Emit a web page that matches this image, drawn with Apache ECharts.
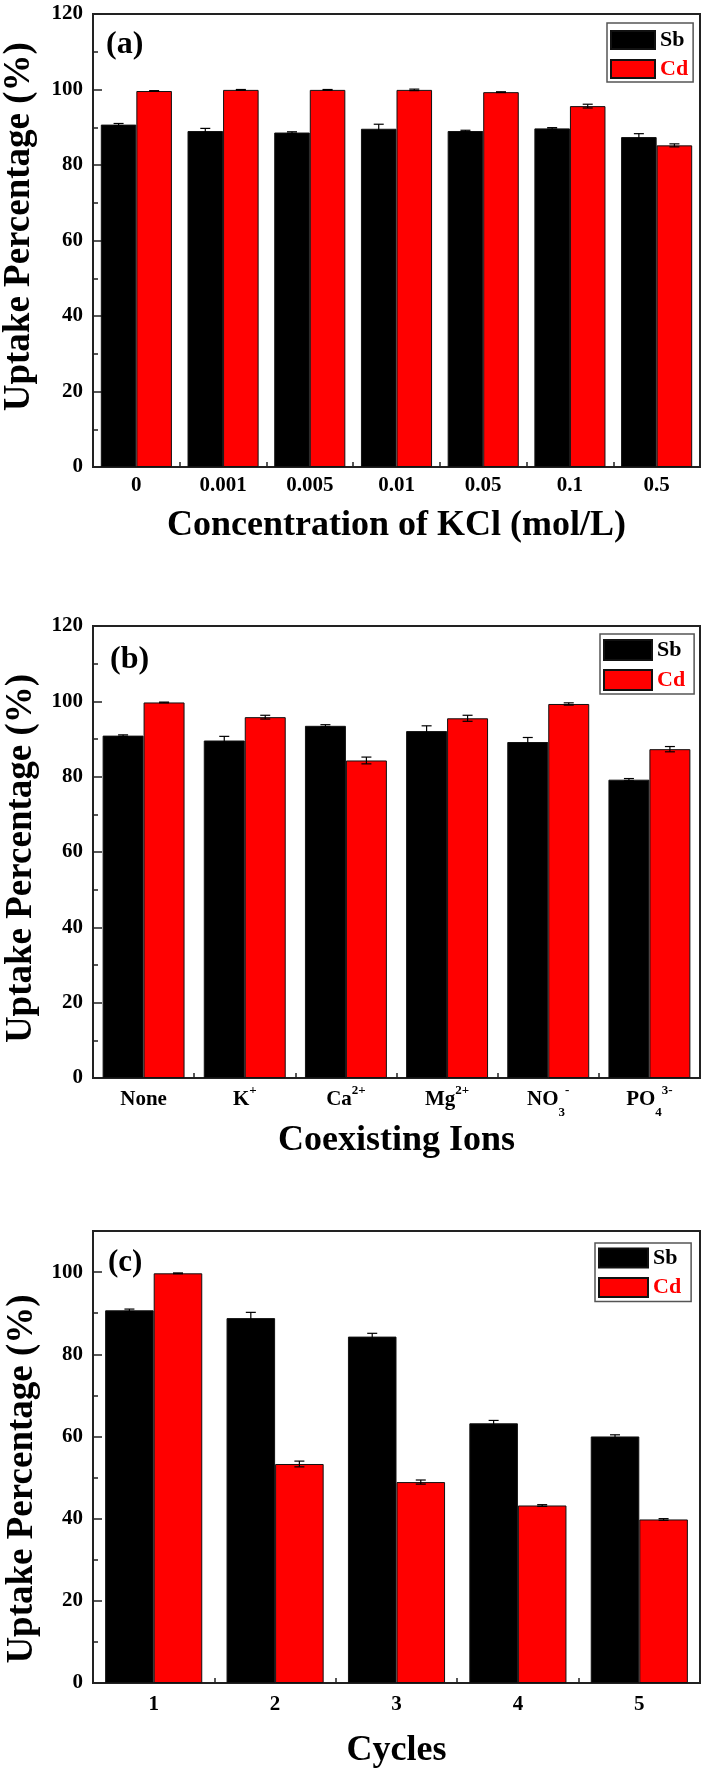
<!DOCTYPE html>
<html><head><meta charset="utf-8">
<script src="https://cdn.jsdelivr.net/npm/echarts@6/dist/echarts.min.js"></script>
<style>html,body{margin:0;padding:0;background:#fff}#c{width:708px;height:1774px}</style>
</head><body><div id="c"></div>
<script>
// ---- Panel (a): KCl concentration ----
const kclCategories = ['0', '0.001', '0.005', '0.01', '0.05', '0.1', '0.5'];
const kclSb = [90.7, 89.0, 88.6, 89.6, 89.0, 89.7, 87.4];
const kclSbErr = [0.3, 0.7, 0.2, 1.2, 0.2, 0.2, 0.9];
const kclCd = [99.6, 99.9, 99.9, 99.9, 99.3, 95.6, 85.2];
const kclCdErr = [0.1, 0.1, 0.1, 0.2, 0.1, 0.5, 0.4];

// ---- Panel (b): coexisting ions ----
const ionCategories = ['None', 'K+', 'Ca2+', 'Mg2+', 'NO3-', 'PO43-'];
const ionLabels = ['None', 'K{sup|+}', 'Ca{sup|2+}', 'Mg{sup|2+}', 'NO{sub|3}{sup|-}', 'PO{sub|4}{sup|3-}'];
const ionSb = [90.9, 89.6, 93.5, 92.1, 89.2, 79.2];
const ionSbErr = [0.2, 1.1, 0.3, 1.4, 1.2, 0.3];
const ionCd = [99.7, 95.8, 84.3, 95.5, 99.3, 87.3];
const ionCdErr = [0.1, 0.5, 0.9, 0.8, 0.3, 0.7];

// ---- Panel (c): cycles ----
const cycleCategories = ['1', '2', '3', '4', '5'];
const cycleSb = [90.7, 88.8, 84.3, 63.2, 60.0];
const cycleSbErr = [0.3, 1.4, 0.8, 0.7, 0.4];
const cycleCd = [99.7, 53.3, 48.9, 43.2, 39.8];
const cycleCdErr = [0.1, 0.7, 0.5, 0.2, 0.2];

const yTickLabels = [0, 20, 40, 60, 80, 100, 120];

const FF = '"Liberation Serif", "Times New Roman", serif';
const LINE = '#222';

const chart = echarts.init(document.getElementById('c'), null, {renderer: 'canvas'});

function gridDef(top, height) {
  return {left: 93, right: 8, top: top, height: height, show: true,
          borderColor: LINE, borderWidth: 2, containLabel: false};
}

function xAxisDef(gi, cats, name, nameGap, labelOpts) {
  return Object.assign({
    type: 'category', gridIndex: gi, data: cats,
    boundaryGap: true,
    axisLine: {show: true, lineStyle: {color: LINE, width: 2}},
    axisTick: {show: true, inside: true, length: 5, lineStyle: {color: LINE, width: 1.5}},
    axisLabel: {fontFamily: FF, fontWeight: 'bold', fontSize: 21, color: '#000', margin: 8, interval: 0, hideOverlap: false},
    name: name, nameLocation: 'middle', nameGap: nameGap,
    nameTextStyle: {fontFamily: FF, fontWeight: 'bold', fontSize: 36, color: '#000'},
    splitLine: {show: false}
  }, labelOpts || {});
}

function yAxisDef(gi, max, extra) {
  return Object.assign({
    type: 'value', gridIndex: gi, min: 0, max: max, interval: 20,
    axisLine: {show: true, lineStyle: {color: LINE, width: 2}},
    axisTick: {show: true, inside: true, length: 9, lineStyle: {color: LINE, width: 1.5}},
    minorTick: {show: true, splitNumber: 2, length: 5, lineStyle: {color: LINE, width: 1.5}},
    axisLabel: {fontFamily: FF, fontWeight: 'bold', fontSize: 21, color: '#000', margin: 10,
                formatter: function (v) { return yTickLabels.indexOf(v) >= 0 ? String(v) : ''; }},
    splitLine: {show: false}
  }, extra || {});
}

function barSeries(name, gi, yi, data, color, gap) {
  return {
    name: name, type: 'bar', xAxisIndex: gi, yAxisIndex: yi, data: data,
    barGap: '0%', barCategoryGap: (gap * 100) + '%',
    itemStyle: {color: color, borderColor: '#111', borderWidth: 1},
    z: 2
  };
}

function errSeries(gi, yi, values, errs, side, gap) {
  return {
    type: 'custom', xAxisIndex: gi, yAxisIndex: yi, z: 10, silent: true,
    data: values.map(function (v, i) { return [i, v, errs[i]]; }),
    renderItem: function (params, api) {
      const i = api.value(0), v = api.value(1), e = api.value(2);
      const band = api.size([1, 0])[0];
      const bw = band * (1 - gap) / 2;
      const c = api.coord([i, v]);
      const x = c[0] + side * bw / 2;
      const yt = api.coord([i, v + e])[1];
      const yb = api.coord([i, v - e])[1];
      const cap = 5;
      const st = {stroke: '#000', lineWidth: 1.2};
      return {type: 'group', children: [
        {type: 'line', shape: {x1: x, y1: yt, x2: x, y2: yb}, style: st},
        {type: 'line', shape: {x1: x - cap, y1: yt, x2: x + cap, y2: yt}, style: st},
        {type: 'line', shape: {x1: x - cap, y1: yb, x2: x + cap, y2: yb}, style: st}
      ]};
    }
  };
}

function legendDef(left, top, padding, iw, ih, gap) {
  return {
    left: left, top: top, orient: 'vertical', padding: padding,
    itemWidth: iw, itemHeight: ih, itemGap: gap, itemTextGap: 6,
    borderColor: '#555', borderWidth: 1.5, backgroundColor: '#fff',
    selectedMode: false,
    textStyle: {fontFamily: FF, fontWeight: 'bold', fontSize: 22, lineHeight: 22},
    data: [
      {name: 'Sb', icon: 'rect', textStyle: {color: '#000'}},
      {name: 'Cd', icon: 'rect', textStyle: {color: '#ff0000'}}
    ]
  };
}

const gapA = 0.18, gapB = 0.19, gapC = 0.20;
const richSS = {
  sup: {fontFamily: FF, fontWeight: 'bold', fontSize: 13, lineHeight: 13, verticalAlign: 'top', padding: [3, 0, 0, 0], color: '#000'},
  sub: {fontFamily: FF, fontWeight: 'bold', fontSize: 13, lineHeight: 13, verticalAlign: 'bottom', color: '#000'}
};

const yTitleFont = 'bold 37px ' + FF;
const panelFont = 'bold 32px ' + FF;

const option = {
  animation: false,
  backgroundColor: '#fff',
  grid: [gridDef(14, 453), gridDef(626, 452), gridDef(1231, 452)],
  xAxis: [
    xAxisDef(0, kclCategories, 'Concentration of KCl (mol/L)', 41),
    xAxisDef(1, ionCategories, 'Coexisting Ions', 45, {
      axisLabel: {fontFamily: FF, fontWeight: 'bold', fontSize: 21, color: '#000', margin: 3,
                  lineHeight: 38, interval: 0, hideOverlap: false,
                  formatter: function (v, idx) { return ionLabels[idx]; },
                  rich: richSS}
    }),
    xAxisDef(2, cycleCategories, 'Cycles', 50, {
      axisLabel: {fontFamily: FF, fontWeight: 'bold', fontSize: 21, color: '#000', margin: 11, interval: 0}
    })
  ],
  yAxis: [
    yAxisDef(0, 120),
    yAxisDef(1, 120),
    yAxisDef(2, 110, {
      minorTick: {show: false},
      axisLabel: {fontFamily: FF, fontWeight: 'bold', fontSize: 21, color: '#000', margin: 10,
                  showMaxLabel: false,
                  formatter: function (v) { return yTickLabels.indexOf(v) >= 0 && v <= 100 ? String(v) : ''; }}
    }),
    {
      type: 'value', gridIndex: 2, min: 0, max: 110, interval: 10, position: 'left',
      axisLine: {show: false}, axisLabel: {show: false}, splitLine: {show: false},
      axisTick: {show: true, inside: true, length: 5, lineStyle: {color: LINE, width: 1.5}}
    }
  ],
  legend: [
    legendDef(607, 23, [6, 5, 2, 3], 44, 18, 7),
    legendDef(600, 634, [5, 9, 3, 3], 48, 20, 8),
    legendDef(595, 1243, [4, 10, 3, 3], 49, 19, 7.5)
  ],
  graphic: [
    {type: 'text', x: 106, y: 45, style: {text: '(a)', font: panelFont, fill: '#000', verticalAlign: 'middle', textVerticalAlign: 'middle'}},
    {type: 'text', x: 110, y: 660, style: {text: '(b)', font: panelFont, fill: '#000', verticalAlign: 'middle', textVerticalAlign: 'middle'}},
    {type: 'text', x: 108, y: 1263, style: {text: '(c)', font: 'bold 31px ' + FF, fill: '#000', verticalAlign: 'middle', textVerticalAlign: 'middle'}},
    {type: 'text', x: 19.5, y: 226.7, rotation: Math.PI / 2, style: {text: 'Uptake Percentage (%)', font: yTitleFont, fill: '#000', align: 'center', textAlign: 'center', verticalAlign: 'middle', textVerticalAlign: 'middle'}},
    {type: 'text', x: 21, y: 858.5, rotation: Math.PI / 2, style: {text: 'Uptake Percentage (%)', font: yTitleFont, fill: '#000', align: 'center', textAlign: 'center', verticalAlign: 'middle', textVerticalAlign: 'middle'}},
    {type: 'text', x: 22, y: 1479, rotation: Math.PI / 2, style: {text: 'Uptake Percentage (%)', font: yTitleFont, fill: '#000', align: 'center', textAlign: 'center', verticalAlign: 'middle', textVerticalAlign: 'middle'}}
  ],
  series: [
    barSeries('Sb', 0, 0, kclSb, '#000000', gapA),
    barSeries('Cd', 0, 0, kclCd, '#ff0000', gapA),
    barSeries('Sb', 1, 1, ionSb, '#000000', gapB),
    barSeries('Cd', 1, 1, ionCd, '#ff0000', gapB),
    barSeries('Sb', 2, 2, cycleSb, '#000000', gapC),
    barSeries('Cd', 2, 2, cycleCd, '#ff0000', gapC),
    errSeries(0, 0, kclSb, kclSbErr, -1, gapA),
    errSeries(0, 0, kclCd, kclCdErr, 1, gapA),
    errSeries(1, 1, ionSb, ionSbErr, -1, gapB),
    errSeries(1, 1, ionCd, ionCdErr, 1, gapB),
    errSeries(2, 2, cycleSb, cycleSbErr, -1, gapC),
    errSeries(2, 2, cycleCd, cycleCdErr, 1, gapC)
  ]
};
chart.setOption(option);
</script>
</body></html>
